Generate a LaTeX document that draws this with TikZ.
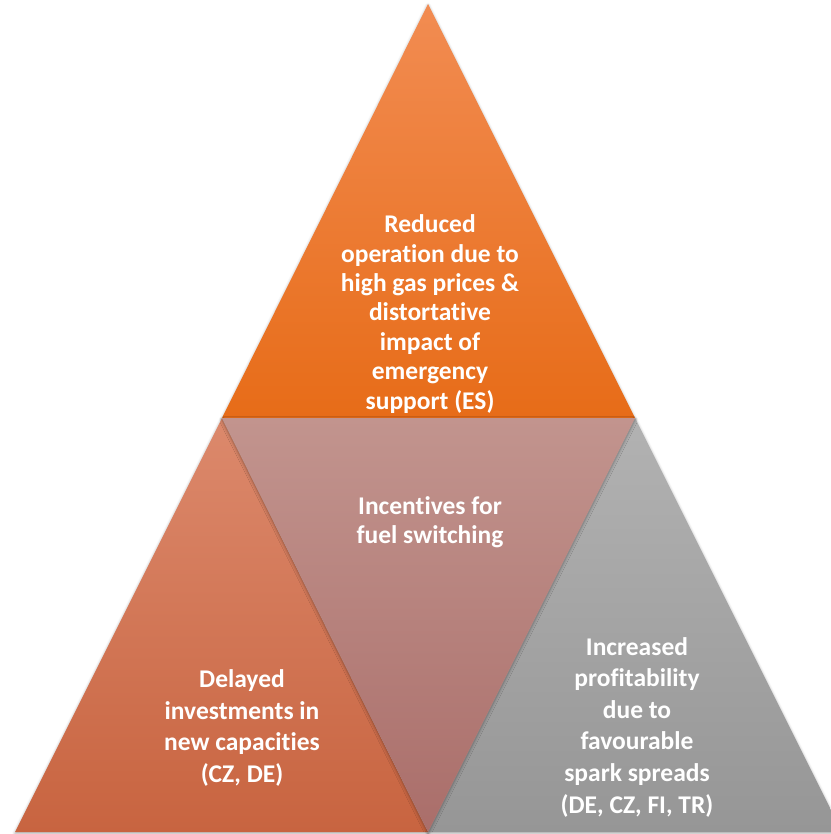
\documentclass[tikz,border=0pt]{standalone}
\usepackage{fontspec}
\setmainfont{Carlito}[RawFeature={-liga}]
\usetikzlibrary{shadows.blur}
\definecolor{topA}{RGB}{242,140,82}
\definecolor{topB}{RGB}{231,108,24}
\definecolor{midA}{RGB}{194,148,142}
\definecolor{midB}{RGB}{170,110,106}
\definecolor{leftA}{RGB}{220,137,108}
\definecolor{leftB}{RGB}{200,100,64}
\definecolor{rightA}{RGB}{178,178,178}
\definecolor{rightB}{RGB}{150,150,150}
\tikzset{
  tri/.style={blur shadow={shadow xshift=0pt, shadow yshift=-1.5pt, shadow blur radius=3pt, shadow opacity=35}},
  lbl/.style={text=white, font=\fontsize{25.5}{29.4}\selectfont\bfseries, align=center, inner sep=0pt},
  lblw/.style={lbl, font=\fontsize{25.5}{31.6}\selectfont\bfseries}
}
\begin{document}
\begin{tikzpicture}[x=1pt,y=-1pt]
\useasboundingbox (0,0) rectangle (830,834);
\coordinate (apex) at (428,4);
\coordinate (bl) at (222,418);
\coordinate (br) at (635,418);
\coordinate (lc) at (15,832);
\coordinate (mc) at (428,832);
\coordinate (rc) at (842,832);
% top
\path[tri, top color=topA, bottom color=topB] (apex) -- (br) -- (bl) -- cycle;
% left
\path[tri, top color=leftA, bottom color=leftB] (bl) -- (mc) -- (lc) -- cycle;
% right
\path[tri, top color=rightA, bottom color=rightB] (br) -- (rc) -- (mc) -- cycle;
% middle
\path[tri, top color=midA, bottom color=midB] (bl) -- (br) -- (mc) -- cycle;
\node[lbl] (ttop) at (430,314) {Reduced\\operation due to\\high gas prices \&\\distortative\\impact of\\emergency\\support (ES)};
\node[lbl] (tmid) at (430,522) {Incentives for\\fuel switching};
\node[lblw] (tleft) at (242,728) {Delayed\\investments in\\new capacities\\(CZ, DE)};
\node[lblw] (tright) at (637,727) {Increased\\profitability\\due to\\favourable\\spark spreads\\(DE, CZ, FI, TR)};
\end{tikzpicture}
\end{document}
